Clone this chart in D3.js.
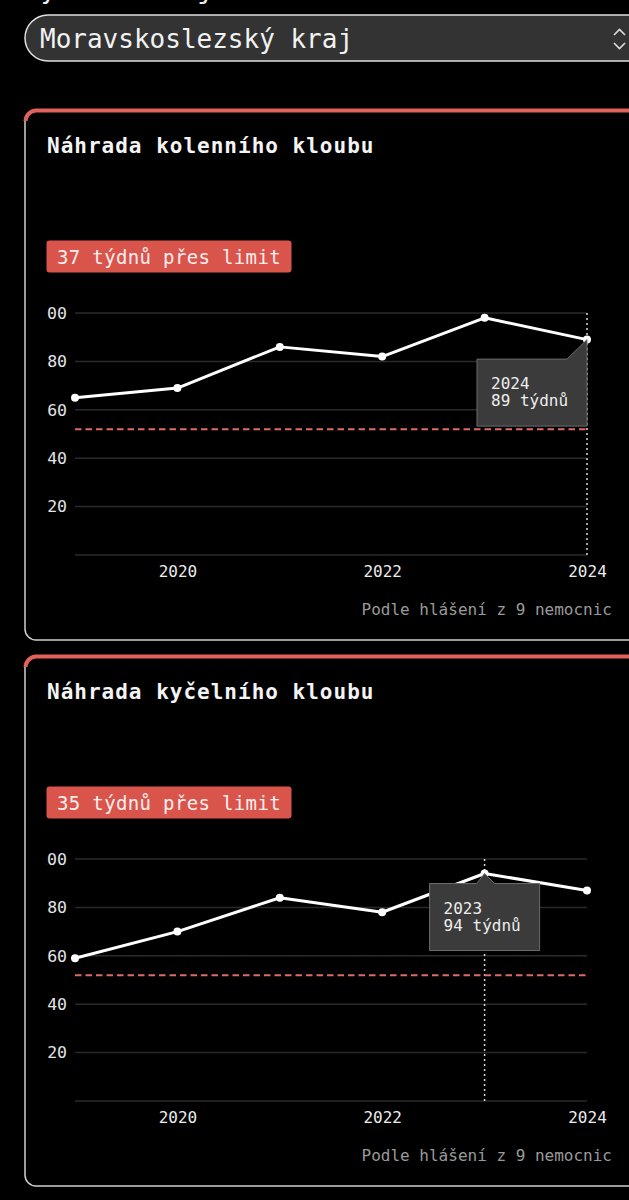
<!DOCTYPE html>
<html>
<head>
<meta charset="utf-8">
<script src="https://cdn.jsdelivr.net/npm/d3@7/dist/d3.min.js"></script>
<style>
  html, body { margin: 0; padding: 0; background: #000; }
  svg { display: block; }
  text { font-family: "DejaVu Sans Mono", "Liberation Mono", monospace; }
</style>
</head>
<body>
<script>
// ---------- data ----------
const selectLabel = "Vyberte kraj";
const regionName = "Moravskoslezský kraj";
const chartTitles = ["Náhrada kolenního kloubu", "Náhrada kyčelního kloubu"];
const years = [2019, 2020, 2021, 2022, 2023, 2024];
const kneeWeeks = [65, 69, 86, 82, 98, 89];
const hipWeeks = [59, 70, 84, 78, 94, 87];
const limitWeeks = 52;
const yTicks = [0, 20, 40, 60, 80, 100];
const xTicks = [2020, 2022, 2024];
const highlightYears = [2024, 2023];
const footnote = "Podle hlášení z 9 nemocnic";
const unit = "týdnů";

const seriesList = [kneeWeeks, hipWeeks];

// ---------- layout ----------
const W = 629, H = 1200;
const cardTops = [110, 656];
const cardH = 530;

const svg = d3.select("body").append("svg").attr("width", W).attr("height", H);
svg.append("rect").attr("width", W).attr("height", H).attr("fill", "#000");

// partly hidden label above the select
svg.append("text").attr("x", 25).attr("y", -2).attr("font-size", 26).attr("fill", "#eee").text(selectLabel);

// select box
svg.append("rect").attr("x", 25).attr("y", 15).attr("width", 640).attr("height", 46)
  .attr("rx", 23).attr("fill", "#333").attr("stroke", "#e0e0e0").attr("stroke-width", 1.5);
svg.append("text").attr("x", 40).attr("y", 48).attr("font-size", 26).attr("fill", "#f2f2f2").text(regionName);
svg.append("path").attr("d", "M614,35 L619.5,29.5 L625,35 M614,43 L619.5,48.5 L625,43")
  .attr("fill", "none").attr("stroke", "#ddd").attr("stroke-width", 1.6);

const x = d3.scaleLinear().domain(d3.extent(years)).range([75, 587]);
const y = d3.scaleLinear().domain([0, 100]).range([445, 203]);

seriesList.forEach((vals, i) => {
  const g = svg.append("g").attr("transform", `translate(0,${cardTops[i]})`);

  // card
  g.append("path")
    .attr("d", `M660,${cardH} H36 A11,11 0 0 1 25,${cardH - 11} V11 A11,11 0 0 1 36,0 H660`)
    .attr("fill", "#000").attr("stroke", "#cfcfcf").attr("stroke-width", 1.5);
  g.append("path").attr("d", "M25.5,11 A11,11 0 0 1 36,0.5 H660")
    .attr("fill", "none").attr("stroke", "#e0625a").attr("stroke-width", 4);

  // title
  g.append("text").attr("x", 47).attr("y", 43).attr("font-size", 21).attr("font-weight", "bold")
    .attr("letter-spacing", 1).attr("fill", "#f4f4f4").text(chartTitles[i]);

  // badge
  const last = vals[vals.length - 1];
  g.append("rect").attr("x", 46.5).attr("y", 130.5).attr("width", 245).attr("height", 32)
    .attr("rx", 3).attr("fill", "#d9554c");
  g.append("text").attr("x", 57).attr("y", 154).attr("font-size", 19).attr("letter-spacing", 0.35)
    .attr("fill", "#fbeeee").text(`${last - limitWeeks} ${unit} přes limit`);

  // clip for axis labels (the card crops the leading digit of "100")
  const clipId = "clip" + i;
  g.append("clipPath").attr("id", clipId).append("rect")
    .attr("x", 46.5).attr("y", 150).attr("width", 600).attr("height", 360);

  // grid
  g.append("g").selectAll("line").data(yTicks).join("line")
    .attr("x1", x.range()[0]).attr("x2", x.range()[1])
    .attr("y1", d => y(d)).attr("y2", d => y(d))
    .attr("stroke", "#2a2a2a").attr("stroke-width", 1.5);

  // y axis
  const yaWrap = g.append("g").attr("clip-path", `url(#${clipId})`);
  const ya = yaWrap.append("g")
    .attr("transform", `translate(${x.range()[0]},0)`)
    .call(d3.axisLeft(y).tickValues(yTicks).tickSize(0).tickPadding(8)
      .tickFormat(d => d === 0 ? "" : d));
  ya.select(".domain").remove();
  ya.selectAll("text").attr("font-size", 16.5).attr("fill", "#e4e4e4")
    .attr("font-family", "DejaVu Sans Mono");

  // x axis
  const xa = g.append("g").attr("transform", `translate(0,${y(0)})`)
    .call(d3.axisBottom(x).tickValues(xTicks).tickSize(0).tickPadding(10.5).tickFormat(d3.format("d")));
  xa.select(".domain").remove();
  xa.selectAll("text").attr("font-size", 16).attr("fill", "#ececec")
    .attr("font-family", "DejaVu Sans Mono");

  // highlight vertical dotted line
  const hy = highlightYears[i];
  const hIdx = years.indexOf(hy);
  g.append("line").attr("x1", x(hy)).attr("x2", x(hy)).attr("y1", y(100)).attr("y2", y(0))
    .attr("stroke", "#d8d8d8").attr("stroke-width", 1.5).attr("stroke-dasharray", "2,3");

  // limit line
  g.append("line").attr("x1", x.range()[0]).attr("x2", x.range()[1])
    .attr("y1", y(limitWeeks)).attr("y2", y(limitWeeks))
    .attr("stroke", "#e06a66").attr("stroke-width", 2).attr("stroke-dasharray", "6.5,4");

  // line
  const data = years.map((yr, k) => ({ yr, v: vals[k] }));
  g.append("path").datum(data)
    .attr("d", d3.line().x(d => x(d.yr)).y(d => y(d.v)))
    .attr("fill", "none").attr("stroke", "#fff").attr("stroke-width", 3)
    .attr("stroke-linejoin", "round");
  g.append("g").selectAll("circle").data(data).join("circle")
    .attr("cx", d => x(d.yr)).attr("cy", d => y(d.v)).attr("r", 4).attr("fill", "#fff");

  // tooltip
  const px = x(hy), py = y(vals[hIdx]);
  const bw = 110, bh = 67;
  let bx = px - bw / 2;
  let d, by;
  if (bx + bw > x.range()[1]) {
    bx = x.range()[1] - bw;
    by = py + 19.5;
    d = `M${bx},${by} H${px - 20} L${px},${py} V${by + bh} H${bx} Z`;
  } else {
    by = py + 10;
    d = `M${bx},${by} H${px - 8} L${px},${py} L${px + 10},${by} H${bx + bw} V${by + bh} H${bx} Z`;
  }
  g.append("path").attr("d", d).attr("fill", "#3b3b3b").attr("stroke", "#6c6c6c").attr("stroke-width", 1);
  g.append("text").attr("x", bx + 14).attr("y", by + 30).attr("font-size", 16).attr("fill", "#eee").text(hy);
  g.append("text").attr("x", bx + 14).attr("y", by + 47).attr("font-size", 16).attr("fill", "#eee")
    .text(`${vals[hIdx]} ${unit}`);

  // footnote
  g.append("text").attr("x", 612).attr("y", 505).attr("text-anchor", "end")
    .attr("font-size", 16).attr("fill", "#9a9a9a").text(footnote);
});
</script>
</body>
</html>
